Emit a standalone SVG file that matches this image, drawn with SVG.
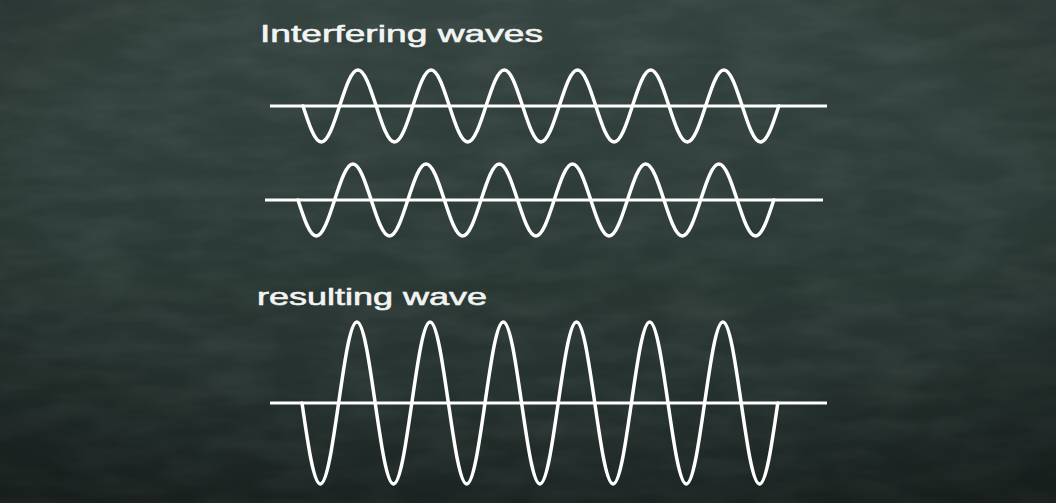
<svg xmlns="http://www.w3.org/2000/svg" width="1056" height="503" viewBox="0 0 1056 503">
  <defs>
    <linearGradient id="board" x1="0" y1="0" x2="0" y2="1">
      <stop offset="0" stop-color="#34433f"/>
      <stop offset="0.45" stop-color="#2c3b37"/>
      <stop offset="1" stop-color="#1f2927"/>
    </linearGradient>
    <radialGradient id="vignette" cx="0.5" cy="0.4" r="0.75">
      <stop offset="0.6" stop-color="#000" stop-opacity="0"/>
      <stop offset="1" stop-color="#000" stop-opacity="0.3"/>
    </radialGradient>
    <filter id="chalk" x="0" y="0" width="100%" height="100%">
      <feTurbulence type="fractalNoise" baseFrequency="0.015 0.05" numOctaves="3" seed="4"/>
      <feColorMatrix type="matrix" values="0 0 0 0 0.7  0 0 0 0 0.8  0 0 0 0 0.77  0 0 0 0.12 -0.04"/>
    </filter>
    <style>
      .axis { stroke: #ffffff; stroke-width: 3; fill: none; }
      .wave { stroke: #ffffff; stroke-width: 3.5; fill: none; stroke-linecap: round; stroke-linejoin: round; }
      .label { font-family: "Liberation Sans", "DejaVu Sans", sans-serif; font-size: 24px; fill: #f2f4f2; stroke: #f2f4f2; stroke-width: 0.6; }
    </style>
  </defs>

  <rect width="1056" height="503" fill="url(#board)"/>
  <rect width="1056" height="503" filter="url(#chalk)"/>
  <rect width="1056" height="503" fill="url(#vignette)"/>

  <g id="label-interfering">
    <text class="label" x="260" y="42" textLength="283" lengthAdjust="spacingAndGlyphs">Interfering waves</text>
  </g>

  <g id="wave-1">
    <line class="axis" x1="270" y1="106" x2="827" y2="106"/>
    <path class="wave" d="M303,106 c6.12,18.9 11.71,36 18.3,36 s12.18,-17.1 18.3,-36 s11.71,-36 18.3,-36 s12.18,17.1 18.3,36
      s11.71,36 18.3,36 s12.18,-17.1 18.3,-36 s11.71,-36 18.3,-36 s12.18,17.1 18.3,36
      s11.71,36 18.3,36 s12.18,-17.1 18.3,-36 s11.71,-36 18.3,-36 s12.18,17.1 18.3,36
      s11.71,36 18.3,36 s12.18,-17.1 18.3,-36 s11.71,-36 18.3,-36 s12.18,17.1 18.3,36
      s11.71,36 18.3,36 s12.18,-17.1 18.3,-36 s11.71,-36 18.3,-36 s12.18,17.1 18.3,36
      s11.71,36 18.3,36 s12.18,-17.1 18.3,-36 s11.71,-36 18.3,-36 s12.18,17.1 18.3,36
      s11.71,36 18.3,36 s12.18,-17.1 18.3,-36"/>
  </g>

  <g id="wave-2">
    <line class="axis" x1="265" y1="200" x2="823" y2="200"/>
    <path class="wave" d="M298,200 c6.12,18.9 11.71,36 18.3,36 s12.18,-17.1 18.3,-36 s11.71,-36 18.3,-36 s12.18,17.1 18.3,36
      s11.71,36 18.3,36 s12.18,-17.1 18.3,-36 s11.71,-36 18.3,-36 s12.18,17.1 18.3,36
      s11.71,36 18.3,36 s12.18,-17.1 18.3,-36 s11.71,-36 18.3,-36 s12.18,17.1 18.3,36
      s11.71,36 18.3,36 s12.18,-17.1 18.3,-36 s11.71,-36 18.3,-36 s12.18,17.1 18.3,36
      s11.71,36 18.3,36 s12.18,-17.1 18.3,-36 s11.71,-36 18.3,-36 s12.18,17.1 18.3,36
      s11.71,36 18.3,36 s12.18,-17.1 18.3,-36 s11.71,-36 18.3,-36 s12.18,17.1 18.3,36
      s11.71,36 18.3,36 s12.18,-17.1 18.3,-36"/>
  </g>

  <g id="label-resulting">
    <text class="label" x="257" y="305" textLength="230" lengthAdjust="spacingAndGlyphs">resulting wave</text>
  </g>

  <g id="wave-result">
    <line class="axis" x1="270" y1="403" x2="827" y2="403"/>
    <path class="wave" d="M302,403 c6.12,42.53 11.71,81 18.3,81 s12.18,-38.47 18.3,-81 s11.71,-81 18.3,-81 s12.18,38.47 18.3,81
      s11.71,81 18.3,81 s12.18,-38.47 18.3,-81 s11.71,-81 18.3,-81 s12.18,38.47 18.3,81
      s11.71,81 18.3,81 s12.18,-38.47 18.3,-81 s11.71,-81 18.3,-81 s12.18,38.47 18.3,81
      s11.71,81 18.3,81 s12.18,-38.47 18.3,-81 s11.71,-81 18.3,-81 s12.18,38.47 18.3,81
      s11.71,81 18.3,81 s12.18,-38.47 18.3,-81 s11.71,-81 18.3,-81 s12.18,38.47 18.3,81
      s11.71,81 18.3,81 s12.18,-38.47 18.3,-81 s11.71,-81 18.3,-81 s12.18,38.47 18.3,81
      s11.71,81 18.3,81 s12.18,-38.47 18.3,-81"/>
  </g>

  <g id="connectors"/>
</svg>
